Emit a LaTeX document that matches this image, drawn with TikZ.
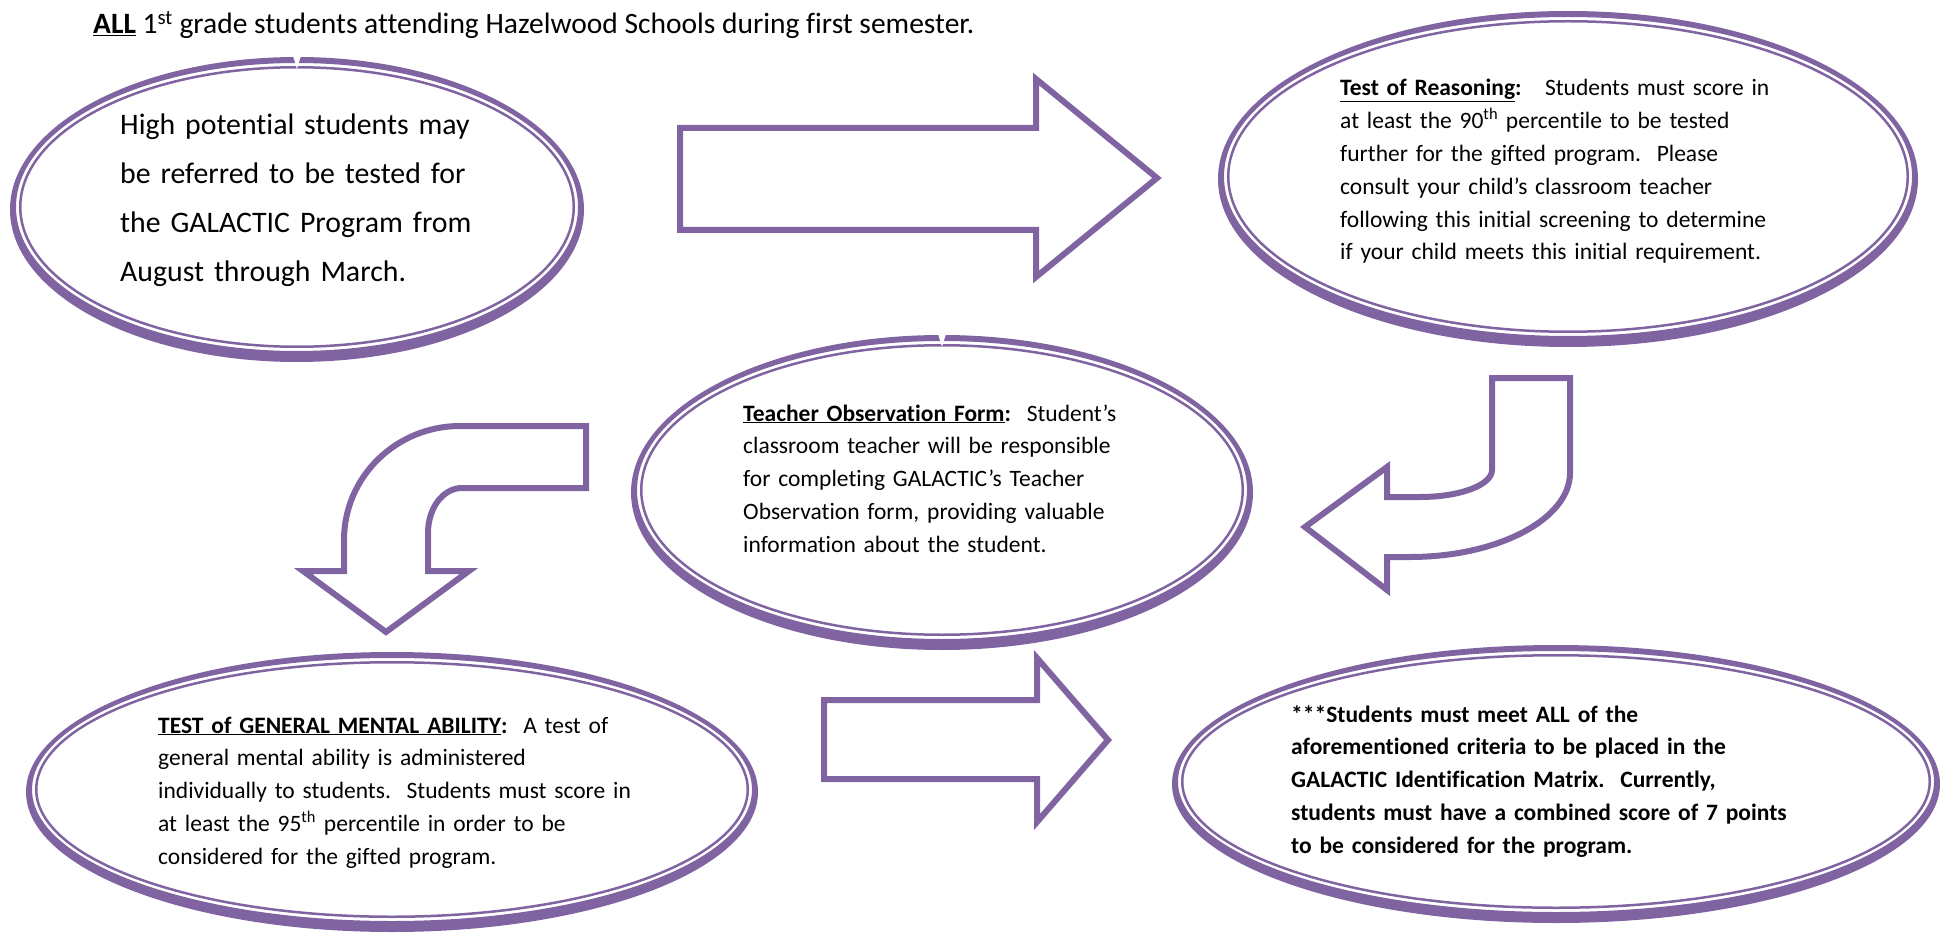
\documentclass[tikz,border=0pt]{standalone}
\usepackage{fontspec}
\setmainfont{Carlito}[Ligatures={TeX,NoCommon}]
\usetikzlibrary{shapes.geometric}
\definecolor{galpurple}{HTML}{8064A2}
\tikzset{
  blockarrow/.style={draw=galpurple, line width=6pt, fill=white, line join=miter},
  bodytext/.style={anchor=base west, inner sep=0pt, text width=700pt, align=left,
     font=\fontsize{23.5}{32.8}\selectfont},
  bigtext/.style={anchor=base west, inner sep=0pt, text width=700pt, align=left,
     font=\fontsize{29.8}{49}\selectfont},
  notch/.style={fill=white, draw=none},
}
% name, cx, cy, rx, ry
\newcommand\galoval[5]{%
  \node[ellipse, minimum width=2*#4, minimum height=2*#5, inner sep=0pt] (#1) at (#2,#3) {};
  \fill[galpurple, even odd rule] (#2,#3) ellipse [x radius=#4, y radius=#5]
       (#2,#3-2.5) ellipse [x radius=#4-6, y radius=#5-8.5];
  \draw[galpurple, line width=2.5pt] (#2,#3-2.5) ellipse [x radius=#4-10.25, y radius=#5-12.75];
}
\begin{document}
\begin{tikzpicture}[x=1pt,y=-1pt]
\useasboundingbox (0,0) rectangle (1946,933);

% title
\node[anchor=base west, inner sep=0pt, font=\fontsize{29.5}{36}\selectfont] (title) at (93,34)
  {\underline{\textbf{ALL}} 1\textsuperscript{st} grade students attending Hazelwood Schools during first semester.};

% ovals
\galoval{A}{297}{209.5}{287}{152.5}
\galoval{B}{1568}{179}{350}{168}
\galoval{C}{942}{492.5}{311}{157.5}
\galoval{D}{392}{792}{366}{140}
\galoval{E}{1556}{784}{384}{139}

% small notches at the top of two ovals
\fill[notch] (A.north) ++(-4,-1) -- ++(8,0) -- ++(-4,13) -- cycle;
\fill[notch] (C.north) ++(-4,-1) -- ++(8,0) -- ++(-4,13) -- cycle;

% texts
\node[bigtext] (tA) at (120,135) {High potential students may\\ be referred to be tested for\\ the GALACTIC Program from\\ August through March.};

\node[bodytext] (tB) at (1340,96) {\underline{\textbf{Test of Reasoning}}\textbf{:}\ \ \ Students must score in\\
 at least the 90\textsuperscript{th} percentile to be tested\\
 further for the gifted program.\ \ Please\\
 consult your child’s classroom teacher\\
 following this initial screening to determine\\
 if your child meets this initial requirement.};

\node[bodytext] (tC) at (743,421) {\underline{\textbf{Teacher Observation Form}}\textbf{:}\ \ Student’s\\
 classroom teacher will be responsible\\
 for completing GALACTIC’s Teacher\\
 Observation form, providing valuable\\
 information about the student.};

\node[bodytext] (tD) at (158,733) {\underline{\textbf{TEST of GENERAL MENTAL ABILITY}}\textbf{:}\ \ A test of\\
 general mental ability is administered\\
 individually to students.\ \ Students must score in\\
 at least the 95\textsuperscript{th} percentile in order to be\\
 considered for the gifted program.};

\node[bodytext, font=\fontsize{23.5}{32.8}\selectfont\bfseries] (tE) at (1291,722) {***Students must meet ALL of the\\
 aforementioned criteria to be placed in the\\
 GALACTIC Identification Matrix.\ \ Currently,\\
 students must have a combined score of 7 points\\
 to be considered for the program.};

% block arrows
\draw[blockarrow] (680,128) -- (1036,128) -- (1036,79) -- (1157,178) -- (1036,277)
   -- (1036,230) -- (680,230) -- cycle;

\draw[blockarrow] (824,700) -- (1037,700) -- (1037,658) -- (1108,740) -- (1037,822)
   -- (1037,779) -- (824,779) -- cycle;

\draw[blockarrow] (586,426) -- (460,426) .. controls (396,426) and (344,477) .. (344,540)
   -- (344,571) -- (303,571) -- (386,632) -- (469,571) -- (428,571) -- (428,533)
   .. controls (428,508) and (443,488) .. (462,488) -- (586,488) -- cycle;

\draw[blockarrow] (1492,378) -- (1570,378) -- (1570,473) .. controls (1570,519) and (1498,557) .. (1410,557)
   -- (1387,557) -- (1387,590) -- (1305,527) -- (1387,467) -- (1387,497) -- (1420,497)
   .. controls (1460,497) and (1492,485) .. (1492,470) -- cycle;
\end{tikzpicture}
\end{document}
